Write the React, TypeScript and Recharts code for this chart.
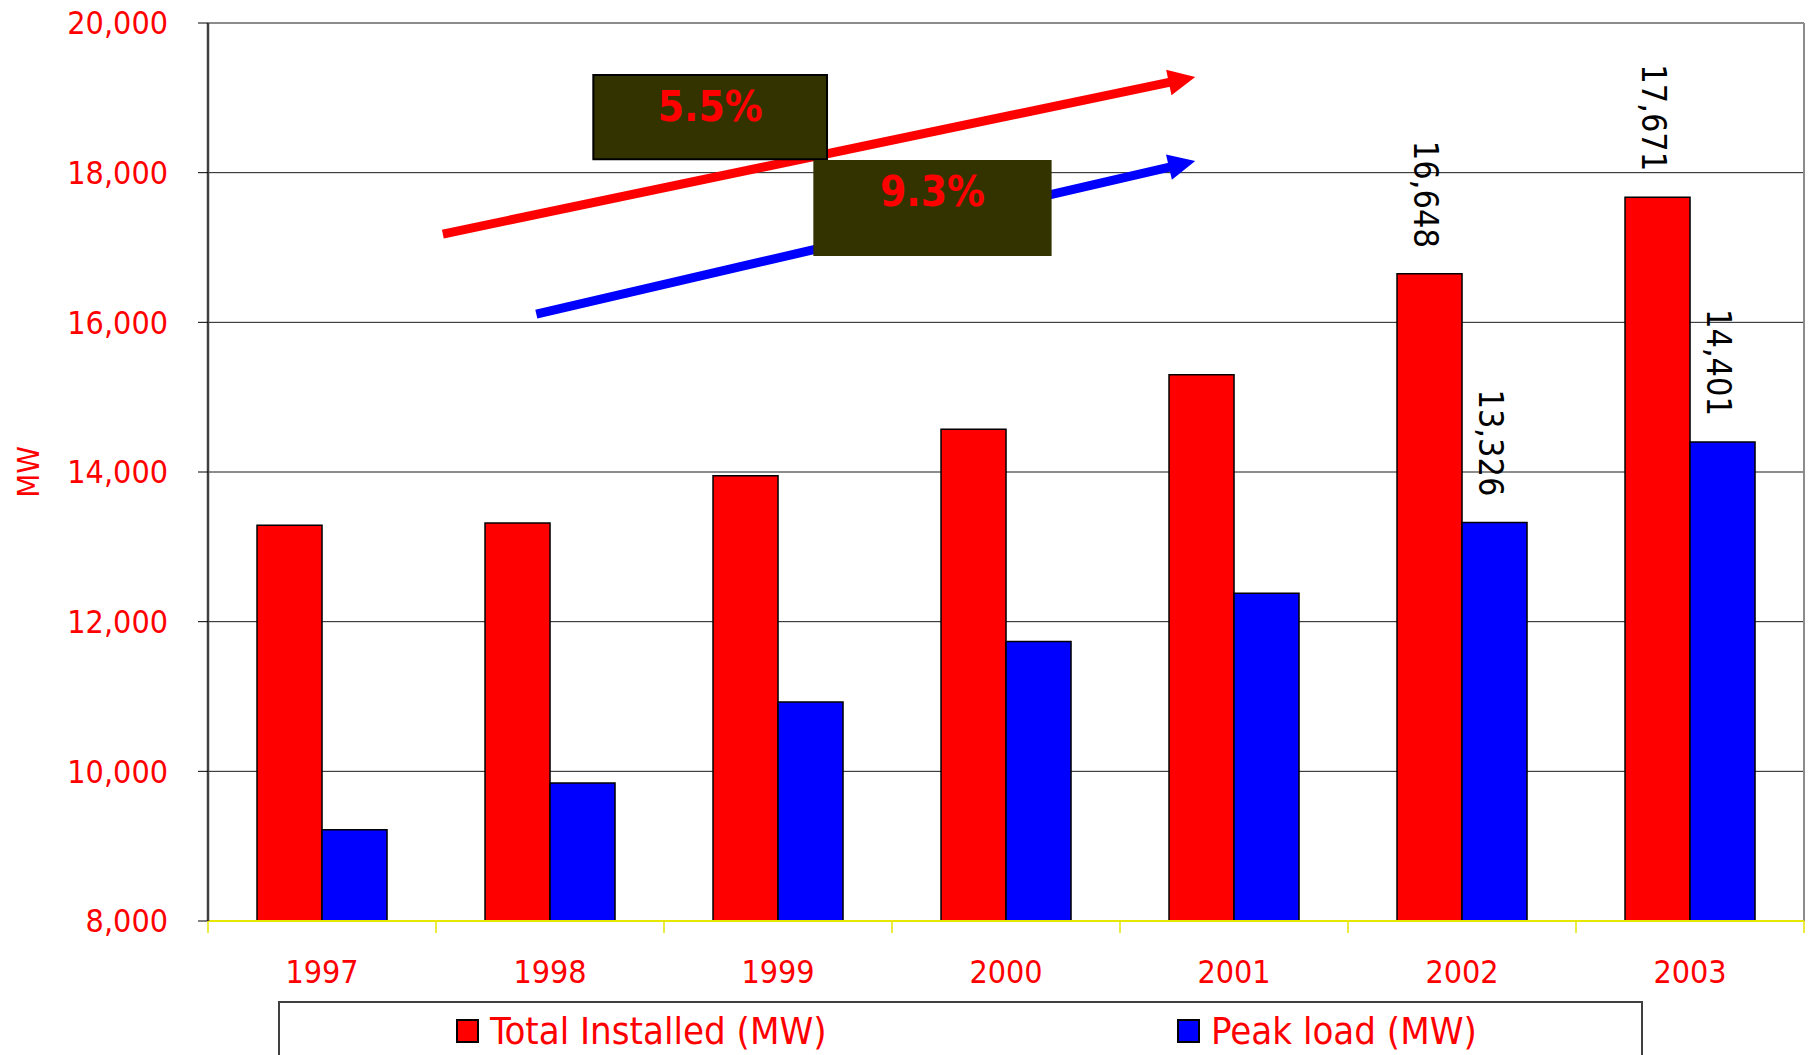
import React from "react"
import {
  BarChart, Bar, XAxis, YAxis, CartesianGrid, Legend, LabelList, Label,
  ReferenceLine, ReferenceArea,
} from "recharts"

const years = ["1997", "1998", "1999", "2000", "2001", "2002", "2003"]
const totalInstalled = [13290, 13320, 13950, 14570, 15300, 16648, 17671]
const peakLoad = [9220, 9845, 10925, 11735, 12380, 13326, 14401]
const yTicks = [8000, 10000, 12000, 14000, 16000, 18000, 20000]
const labeledYears = ["2002", "2003"]
const seriesNames = ["Total Installed (MW)", "Peak load (MW)"]

// growth-rate callouts, placed in plot units (x: 0..7 across the years, y: MW)
const growthRates = ["5.5%", "9.3%"]
const trendFrom = [{ x: 1.03, y: 17180 }, { x: 1.44, y: 16110 }]
const trendTo = [{ x: 4.33, y: 19280 }, { x: 4.33, y: 18155 }]
const rateBoxX = [[1.69, 2.715], [2.655, 3.7]]
const rateBoxY = [[18180, 19305], [16885, 18170]]

const data = years.map((year, i) => ({
  year,
  slot: i + 0.5,
  total: totalInstalled[i],
  peak: peakLoad[i],
}))

const FONT = "'DejaVu Sans Condensed', 'DejaVu Sans', sans-serif"
const RED = "#ff0000"
const BLUE = "#0000ff"
const FRAME = "#8c8c8c"
const trendColors = [RED, BLUE]

const fmt = (v: number) => v.toLocaleString("en-US")

function YearTick(props: any) {
  const { x, y, payload, index, visibleTicksCount, width } = props
  const half = payload.offset || width / visibleTicksCount / 2
  const last = index === visibleTicksCount - 1
  return (
    <g>
      <line x1={x - half} x2={x - half} y1={y} y2={y + 12} stroke="#e6e600" strokeWidth={1.5} />
      {last && <line x1={x + half} x2={x + half} y1={y} y2={y + 12} stroke="#e6e600" strokeWidth={1.5} />}
      <text x={x} y={y + 62} textAnchor="middle" fill={RED} fontSize={32} fontFamily={FONT}>
        {payload.value}
      </text>
    </g>
  )
}

function RotatedValue(props: any) {
  const { index, value } = props
  if (!labeledYears.includes(years[index])) return null
  const vb = props.viewBox ?? props
  const cx = vb.x + vb.width / 2 - 4
  const end = vb.y - 26
  return (
    <text
      x={cx}
      y={end}
      transform={`rotate(90 ${cx} ${end})`}
      textAnchor="end"
      dominantBaseline="central"
      fill="#000"
      fontSize={34}
      fontFamily={FONT}
    >
      {fmt(value)}
    </text>
  )
}

function TrendArrow(props: any) {
  const { x1, y1, x2, y2, stroke } = props
  const a = Math.atan2(y2 - y1, x2 - x1)
  const head = 27
  const half = 13
  const bx = x2 - head * Math.cos(a)
  const by = y2 - head * Math.sin(a)
  const px = -Math.sin(a) * half
  const py = Math.cos(a) * half
  return (
    <g>
      <line x1={x1} y1={y1} x2={bx + Math.cos(a) * 4} y2={by + Math.sin(a) * 4} stroke={stroke} strokeWidth={9} />
      <polygon points={`${x2},${y2} ${bx + px},${by + py} ${bx - px},${by - py}`} fill={stroke} />
    </g>
  )
}

function LegendBox({ payload }: any) {
  const lefts = [176, 897]
  const items = seriesNames
    .map((name) => (payload ?? []).find((p: any) => p.value === name))
    .filter(Boolean)
  return (
    <div
      style={{
        position: "relative",
        boxSizing: "border-box",
        width: 1365,
        height: 58,
        border: "2px solid #404040",
        background: "#fff",
      }}
    >
      {items.map((p: any, i: number) => (
        <div
          key={p.value}
          style={{
            position: "absolute",
            left: lefts[i],
            top: 9,
            display: "flex",
            alignItems: "center",
            gap: 11,
            fontFamily: FONT,
            fontSize: 38,
            lineHeight: "38px",
            color: RED,
            whiteSpace: "nowrap",
          }}
        >
          <span
            style={{
              display: "inline-block",
              boxSizing: "border-box",
              width: 23,
              height: 24,
              background: p.color,
              border: "2px solid #000",
            }}
          />
          {p.value}
        </div>
      ))}
    </div>
  )
}

export default function App() {
  return (
    <div style={{ position: "absolute", left: 0, top: 0 }}>
      <BarChart
        width={1810}
        height={1055}
        data={data}
        margin={{ top: 23, right: 6, bottom: 0, left: 0 }}
        barCategoryGap="21.5%"
        barGap={0}
      >
        <CartesianGrid vertical={false} stroke="#1a1a1a" strokeWidth={1} />
        <XAxis
          dataKey="year"
          height={76}
          interval={0}
          axisLine={{ stroke: "#e6e600", strokeWidth: 2 }}
          tickLine={false}
          tickSize={0}
          tickMargin={0}
          tick={<YearTick />}
        />
        <XAxis
          xAxisId="pos"
          dataKey="slot"
          type="number"
          scale="linear"
          domain={[0, 7]}
          allowDataOverflow
          hide
        />
        <YAxis
          width={208}
          domain={[8000, 20000]}
          ticks={yTicks}
          allowDataOverflow
          tickFormatter={fmt}
          tickSize={10}
          tickMargin={30}
          tickLine={{ stroke: "#000" }}
          axisLine={{ stroke: "#404040", strokeWidth: 2.5 }}
          tick={{ fill: RED, fontSize: 32, fontFamily: FONT }}
        >
          <Label
            content={({ viewBox }: any) => {
              const cx = viewBox.x + 28
              const cy = viewBox.y + viewBox.height / 2
              return (
                <text
                  x={cx}
                  y={cy}
                  transform={`rotate(-90 ${cx} ${cy})`}
                  textAnchor="middle"
                  dominantBaseline="central"
                  fill={RED}
                  fontSize={31}
                  fontFamily={FONT}
                >
                  MW
                </text>
              )
            }}
          />
        </YAxis>

        {/* plot frame: grey top and right edges */}
        <ReferenceLine y={20000} stroke={FRAME} strokeWidth={2} />
        <ReferenceLine xAxisId="pos" x={7} stroke={FRAME} strokeWidth={2} ifOverflow="visible" />

        <Bar
          dataKey="total"
          name={seriesNames[0]}
          fill={RED}
          stroke="#000"
          strokeWidth={1.5}
          isAnimationActive={false}
        >
          <LabelList dataKey="total" content={<RotatedValue />} />
        </Bar>
        <Bar
          dataKey="peak"
          name={seriesNames[1]}
          fill={BLUE}
          stroke="#000"
          strokeWidth={1.5}
          isAnimationActive={false}
        >
          <LabelList dataKey="peak" content={<RotatedValue />} />
        </Bar>

        {trendFrom.map((from, i) => (
          <ReferenceLine
            key={`trend-${i}`}
            xAxisId="pos"
            segment={[from, trendTo[i]]}
            stroke={trendColors[i]}
            ifOverflow="visible"
            zIndex={600}
            shape={<TrendArrow />}
          />
        ))}
        {growthRates.map((rate, i) => (
          <ReferenceArea
            key={`rate-${i}`}
            xAxisId="pos"
            x1={rateBoxX[i][0]}
            x2={rateBoxX[i][1]}
            y1={rateBoxY[i][0]}
            y2={rateBoxY[i][1]}
            fill="#333300"
            fillOpacity={1}
            stroke={i === 0 ? "#000" : "none"}
            strokeWidth={2}
            ifOverflow="visible"
            zIndex={700}
            label={{
              value: rate,
              position: "insideTop",
              offset: 16,
              fill: RED,
              fontSize: 42,
              fontWeight: 700,
              fontFamily: FONT,
            }}
          />
        ))}

        <Legend
          content={<LegendBox />}
          wrapperStyle={{ left: 278, top: 1001, width: 1365, height: 58 }}
        />
      </BarChart>
    </div>
  )
}
